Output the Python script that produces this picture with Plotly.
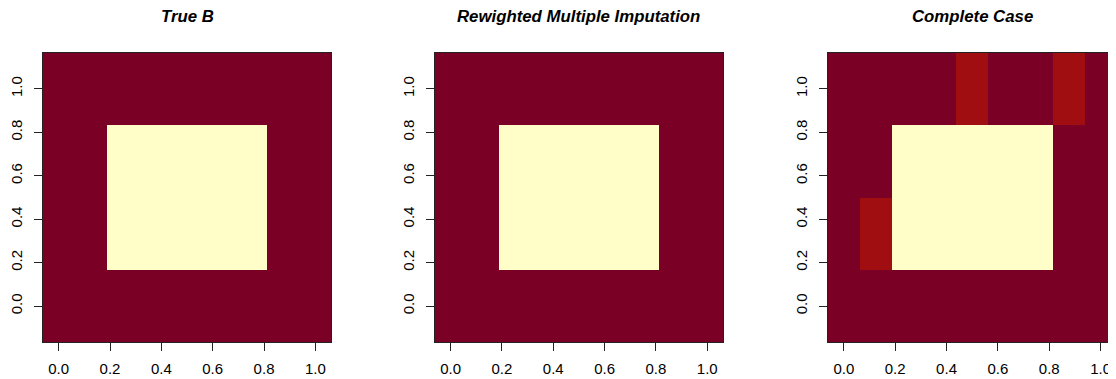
import plotly.graph_objects as go

# grid coordinates
x_grid = [0.0, 0.125, 0.25, 0.375, 0.5, 0.625, 0.75, 0.875, 1.0]
y_grid = [0.0, 1/3, 2/3, 1.0]

# B values (rows = y_grid, columns = x_grid)
true_b = [
    [0, 0, 0, 0, 0, 0, 0, 0, 0],
    [0, 0, 1, 1, 1, 1, 1, 0, 0],
    [0, 0, 1, 1, 1, 1, 1, 0, 0],
    [0, 0, 0, 0, 0, 0, 0, 0, 0],
]
rwmi_b = [
    [0, 0, 0, 0, 0, 0, 0, 0, 0],
    [0, 0, 1, 1, 1, 1, 1, 0, 0],
    [0, 0, 1, 1, 1, 1, 1, 0, 0],
    [0, 0, 0, 0, 0, 0, 0, 0, 0],
]
cc_b = [
    [0, 0, 0, 0, 0, 0, 0, 0, 0],
    [0, 0.12, 1, 1, 1, 1, 1, 0, 0],
    [0, 0, 1, 1, 1, 1, 1, 0, 0],
    [0, 0, 0, 0, 0.12, 0, 0, 0.12, 0],
]
titles = ["True B", "Rewighted Multiple Imputation", "Complete Case"]
tick_vals = [0.0, 0.2, 0.4, 0.6, 0.8, 1.0]
tick_text = ["0.0", "0.2", "0.4", "0.6", "0.8", "1.0"]

colorscale = [
    [0.0, "#7A0026"], [0.06, "#7A0026"],
    [0.06, "#A00E12"], [0.5, "#A00E12"],
    [0.5, "#FFFDC8"], [1.0, "#FFFDC8"],
]

OFF = 8  # page body margin
W, H = 1116 - OFF, 379 - OFF
PW = 289.3
lefts = [41.7 - OFF, 434.3 - OFF, 828.3 - OFF]
x_domains = [[lefts[0] / W, (lefts[0] + PW) / W],
             [lefts[1] / W, (lefts[1] + PW) / W],
             [lefts[2] / W, 1.0]]
x_ranges = [[-0.0625, 1.0625], [-0.0625, 1.0625],
            [-0.0625, -0.0625 + (W - lefts[2]) / PW * 1.125]]
y_domain = [1 - (342.3 - OFF) / H, 1 - (52.7 - OFF) / H]

fig = go.Figure()
font = dict(family="Liberation Sans, Arial, Helvetica, sans-serif", color="#000000")

for i, z in enumerate([true_b, rwmi_b, cc_b]):
    n = "" if i == 0 else str(i + 1)
    fig.add_trace(go.Heatmap(
        x=x_grid, y=y_grid, z=z, zmin=0, zmax=1,
        colorscale=colorscale, showscale=False,
        xaxis="x" + n, yaxis="y" + n, hoverinfo="skip",
    ))
    axis_common = dict(
        showgrid=False, zeroline=False, showline=True, linecolor="#222222",
        linewidth=1, mirror=True, ticks="outside", ticklen=8, tickwidth=1,
        tickcolor="#222222", tickvals=tick_vals, ticktext=tick_text,
        tickfont=dict(size=15, **font), fixedrange=True,
    )
    fig.layout["xaxis" + n] = dict(domain=x_domains[i], range=x_ranges[i],
                                   anchor="y" + n, ticklabelstandoff=5, **axis_common)
    fig.layout["yaxis" + n] = dict(domain=y_domain, range=[-1/6, 7/6],
                                   anchor="x" + n, tickangle=-90,
                                   ticklabelstandoff=6, **axis_common)
    fig.add_annotation(
        text="<b><i>" + titles[i] + "</i></b>",
        x=(lefts[i] + PW / 2) / W, y=1 - (17 - OFF) / H,
        xref="paper", yref="paper", showarrow=False,
        xanchor="center", yanchor="middle",
        font=dict(size=16.8, **font),
    )

fig.update_layout(
    width=W, height=H, margin=dict(l=0, r=0, t=0, b=0),
    paper_bgcolor="white", plot_bgcolor="white", showlegend=False,
)
fig.write_html("out.html")
